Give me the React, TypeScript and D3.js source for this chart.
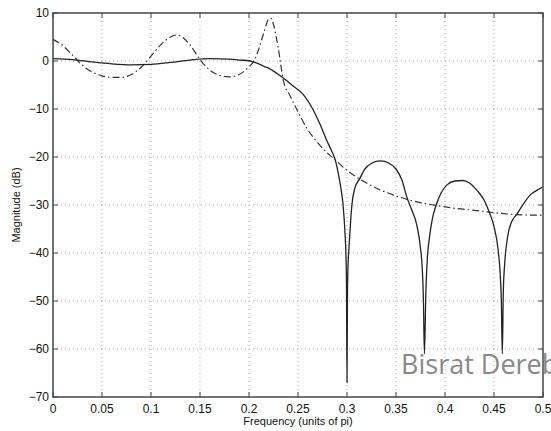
import React from 'react';
import * as d3 from 'd3';

// frequency (units of pi) and magnitude (dB)
const solidFreq = [0, 0.02, 0.04, 0.06, 0.08, 0.1, 0.12, 0.14, 0.16, 0.18, 0.19, 0.2, 0.205, 0.21, 0.215, 0.22, 0.225, 0.23, 0.238, 0.245, 0.255, 0.265, 0.2725, 0.279, 0.284, 0.288, 0.291, 0.294, 0.296, 0.298, 0.299, 0.2995, 0.3, 0.3005, 0.301, 0.302, 0.3035, 0.305, 0.308, 0.313, 0.318, 0.325, 0.334, 0.343, 0.35, 0.356, 0.361, 0.366, 0.371, 0.375, 0.377, 0.378, 0.379, 0.3805, 0.382, 0.384, 0.387, 0.391, 0.396, 0.402, 0.41, 0.418, 0.425, 0.432, 0.44, 0.445, 0.45, 0.454, 0.4565, 0.4575, 0.4585, 0.4595, 0.461, 0.464, 0.468, 0.473, 0.48, 0.487, 0.495, 0.5];
const solidDb = [0.5, 0.3, -0.2, -0.6, -0.8, -0.7, -0.3, 0.2, 0.5, 0.4, 0.2, 0.05, -0.25, -0.6, -1.1, -1.5, -2.1, -2.8, -4, -5.2, -6.9, -10, -13.2, -16.4, -18.6, -20.6, -23.3, -26.8, -30, -36, -41, -47, -67, -48, -43, -39, -34, -30, -26.5, -24.5, -22.6, -21.3, -20.8, -21.3, -22.5, -24.8, -28.3, -31, -34, -39, -44, -50, -61, -48, -41, -37, -33, -30, -27.5, -25.8, -25.0, -24.9, -25.4, -26.8, -29, -31.4, -34.5, -39, -45, -50, -61, -48, -42, -36.5, -33.5, -32, -29.8, -27.9, -26.8, -26.2];

const dashFreq = [0, 0.01, 0.02, 0.03, 0.04, 0.05, 0.06, 0.07, 0.08, 0.09, 0.1, 0.11, 0.12, 0.125, 0.13, 0.14, 0.15, 0.16, 0.17, 0.18, 0.19, 0.2, 0.205, 0.21, 0.215, 0.22, 0.2225, 0.225, 0.23, 0.235, 0.242, 0.249, 0.259, 0.27, 0.28, 0.288, 0.3, 0.313, 0.33, 0.35, 0.364, 0.38, 0.391, 0.41, 0.43, 0.446, 0.46, 0.473, 0.49, 0.5];
const dashDb = [4.5, 3.2, 1.2, -0.9, -2.3, -3.1, -3.4, -3.4, -2.8, -1.3, 1.0, 3.4, 5.0, 5.4, 5.2, 3.3, 0.3, -1.9, -3.0, -3.3, -2.8, -1.2, 0, 2.5, 5.8, 8.7, 8.9, 7.6, 2.5, -4, -7.3, -10.2, -14, -17, -19.2, -20.6, -22.8, -24.6, -26.5, -28.1, -29, -29.7, -30.1, -30.7, -31.1, -31.5, -31.8, -32.0, -32.1, -32.1];

const xTicks = [0, 0.05, 0.1, 0.15, 0.2, 0.25, 0.3, 0.35, 0.4, 0.45, 0.5];
const xTickLabels = ['0', '0.05', '0.1', '0.15', '0.2', '0.25', '0.3', '0.35', '0.4', '0.45', '0.5'];
const yTicks = [10, 0, -10, -20, -30, -40, -50, -60, -70];

const W = 551;
const H = 431;
const left = 53, right = 543, top = 13, bottom = 397;

const App = () => {
    const x = d3.scaleLinear().domain([0, 0.5]).range([left, right]);
    const y = d3.scaleLinear().domain([-70, 10]).range([bottom, top]);

    const line = d3.line<number>()
        .x((d, i) => x(d))
        .curve(d3.curveMonotoneX);

    const solidPath = line.y((d, i) => y(solidDb[i]))(solidFreq);
    const dashPath = line.y((d, i) => y(dashDb[i]))(dashFreq);

    const font = 'Liberation Sans, Arial, Helvetica, sans-serif';
    const tick = 5;

    return (
        <svg width={W} height={H} style={{ position: 'absolute', left: 0, top: 0, background: '#fff' }}>
            {/* grid */}
            {xTicks.slice(1, -1).map(t => (
                <line key={'gx' + t} x1={x(t)} x2={x(t)} y1={top} y2={bottom}
                    stroke="#aaa" strokeWidth={1} strokeDasharray="1,3" />
            ))}
            {yTicks.slice(1, -1).map(t => (
                <line key={'gy' + t} x1={left} x2={right} y1={y(t)} y2={y(t)}
                    stroke="#aaa" strokeWidth={1} strokeDasharray="1,3" />
            ))}

            {/* curves */}
            <path d={dashPath || ''} fill="none" stroke="#333" strokeWidth={1.2} strokeDasharray="7,3,1.5,3" />
            <path d={solidPath || ''} fill="none" stroke="#222" strokeWidth={1.3} />

            {/* box and ticks */}
            <rect x={left} y={top} width={right - left} height={bottom - top} fill="none" stroke="#444" strokeWidth={1.5} />
            {xTicks.map(t => (
                <g key={'tx' + t}>
                    <line x1={x(t)} x2={x(t)} y1={bottom} y2={bottom - tick} stroke="#444" />
                    <line x1={x(t)} x2={x(t)} y1={top} y2={top + tick} stroke="#444" />
                </g>
            ))}
            {yTicks.map(t => (
                <g key={'ty' + t}>
                    <line x1={left} x2={left + tick} y1={y(t)} y2={y(t)} stroke="#444" />
                    <line x1={right} x2={right - tick} y1={y(t)} y2={y(t)} stroke="#444" />
                </g>
            ))}

            {/* tick labels */}
            {xTicks.map((t, i) => (
                <text key={'lx' + t} x={x(t)} y={413} textAnchor="middle"
                    fontFamily={font} fontSize={12} fill="#111">{xTickLabels[i]}</text>
            ))}
            {yTicks.map(t => (
                <text key={'ly' + t} x={left - 4} y={y(t) + 4} textAnchor="end"
                    fontFamily={font} fontSize={12} fill="#111">{t < 0 ? '\u2212' + Math.abs(t) : String(t)}</text>
            ))}

            {/* axis titles */}
            <text x={(left + right) / 2} y={425} textAnchor="middle" fontFamily={font} fontSize={11} fill="#111">
                Frequency (units of pi)
            </text>
            <text transform={`translate(20, ${(top + bottom) / 2}) rotate(-90)`} textAnchor="middle"
                fontFamily={font} fontSize={11} fill="#111">
                Magnitude (dB)
            </text>

            {/* watermark */}
            <text x={401} y={374} fontFamily="Open Sans, Noto Sans, sans-serif" fontSize={27} fill="#888">
                Bisrat Dereb
            </text>
        </svg>
    );
};

export default App;
